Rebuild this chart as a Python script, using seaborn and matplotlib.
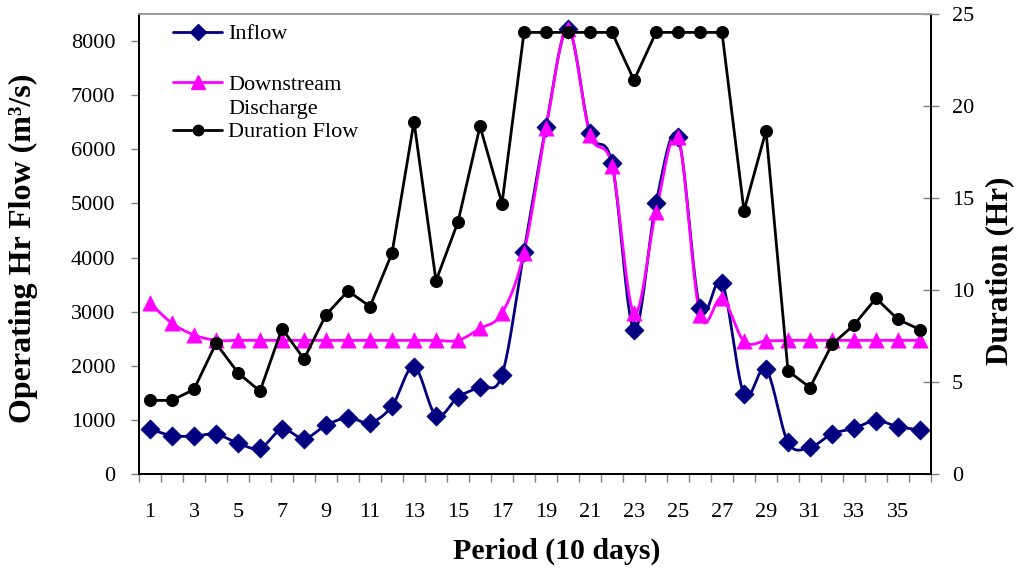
import numpy as np
import pandas as pd
import matplotlib
matplotlib.use("Agg")
import matplotlib.pyplot as plt
from matplotlib.lines import Line2D
import seaborn as sns

# ---- data -------------------------------------------------------------
period = list(range(1, 37))

inflow = [830, 710, 700, 735, 570, 475, 825, 655, 900, 1040, 950, 1255,
          1985, 1080, 1420, 1615, 1830, 4110, 6420, 8230, 6300, 5740,
          2665, 5005, 6235, 3065, 3535, 1480, 1935, 585, 495, 740,
          845, 985, 875, 815]

downstream = [3160, 2785, 2570, 2470, 2470, 2470, 2470, 2470, 2470, 2470,
              2470, 2470, 2470, 2470, 2470, 2690, 2970, 4090, 6390, 8230,
              6270, 5700, 2970, 4850, 6220, 2940, 3250, 2450, 2460, 2470,
              2470, 2470, 2470, 2470, 2470, 2470]

duration = [4.0, 4.0, 4.6, 7.1, 5.5, 4.5, 7.9, 6.25, 8.65, 9.95, 9.1, 12.0,
            19.15, 10.5, 13.7, 18.9, 14.7, 24.0, 24.0, 24.0, 24.0, 24.0,
            21.4, 24.0, 24.0, 24.0, 24.0, 14.3, 18.65, 5.6, 4.7, 7.05,
            8.1, 9.55, 8.4, 7.85]

x_tick_labels = [str(p) for p in range(1, 37, 2)]
left_ticks = list(range(0, 8001, 1000))
right_ticks = list(range(0, 26, 5))

series_names = ["Inflow", "Downstream\nDischarge", "Duration Flow"]


def smooth_path(x, y, n=20):
    """Cubic Bezier path through the points (spreadsheet-style smoothed line)."""
    x = np.asarray(x, float)
    y = np.asarray(y, float)
    px = np.concatenate([[x[0]], x, [x[-1]]])
    py = np.concatenate([[y[0]], y, [y[-1]]])
    xs, ys = [], []
    t = np.linspace(0, 1, n, endpoint=False)
    for i in range(1, len(px) - 2):
        p0x, p0y = px[i], py[i]
        p3x, p3y = px[i + 1], py[i + 1]
        c1x = p0x + (px[i + 1] - px[i - 1]) / 6
        c1y = p0y + (py[i + 1] - py[i - 1]) / 6
        c2x = p3x - (px[i + 2] - px[i]) / 6
        c2y = p3y - (py[i + 2] - py[i]) / 6
        b0 = (1 - t) ** 3
        b1 = 3 * (1 - t) ** 2 * t
        b2 = 3 * (1 - t) * t ** 2
        b3 = t ** 3
        xs.append(b0 * p0x + b1 * c1x + b2 * c2x + b3 * p3x)
        ys.append(b0 * p0y + b1 * c1y + b2 * c2y + b3 * p3y)
    xs.append([x[-1]])
    ys.append([y[-1]])
    return np.concatenate(xs), np.concatenate(ys)


# ---- style ------------------------------------------------------------
sns.set_theme(style="white")
plt.rcParams["font.family"] = ["Liberation Serif", "DejaVu Serif"]
plt.rcParams["axes.linewidth"] = 1.2
plt.rcParams["text.color"] = "black"
plt.rcParams["axes.labelcolor"] = "black"
plt.rcParams["xtick.labelcolor"] = "black"
plt.rcParams["ytick.labelcolor"] = "black"

NAVY = "#000080"
MAGENTA = "#FF00FF"
BLACK = "#000000"
TICK_GRAY = "#808080"

fig = plt.figure(figsize=(10.16, 5.69), dpi=100)
ax = fig.add_axes([139 / 1016, 1 - 474 / 569, 792 / 1016, 460 / 569])
ax2 = ax.twinx()

df = pd.DataFrame({"period": period, "inflow": inflow,
                   "downstream": downstream, "duration": duration})

# smoothed flow lines on the left axis
for col, color, mk, ms in [("inflow", NAVY, "D", 95),
                           ("downstream", MAGENTA, "^", 120)]:
    sx, sy = smooth_path(df["period"], df[col])
    sns.lineplot(x=sx, y=sy, ax=ax, color=color, linewidth=2.0,
                 sort=False, estimator=None, legend=False)
    sns.scatterplot(data=df, x="period", y=col, ax=ax, marker=mk, s=ms,
                    color=color, edgecolor=color, linewidth=0.5,
                    legend=False, zorder=3)

# straight duration line on the right axis
sns.lineplot(data=df, x="period", y="duration", ax=ax2, color=BLACK,
             linewidth=2.0, sort=False, estimator=None, legend=False)
sns.scatterplot(data=df, x="period", y="duration", ax=ax2, marker="o",
                s=75, color=BLACK, edgecolor=BLACK, legend=False, zorder=3)

# ---- axes -------------------------------------------------------------
ax.set_xlim(0.5, 36.5)
ax.set_ylim(0, 8500)
ax2.set_ylim(0, 25)

ax.set_xticks(list(range(1, 37, 2)))
ax.set_xticklabels(x_tick_labels)
ax.set_xticks(np.arange(0.5, 37, 1.0), minor=True)
ax.tick_params(axis="x", which="major", length=0, pad=21, labelsize=16,
               labelcolor=BLACK)
ax.tick_params(axis="x", which="minor", length=6, width=1, color=TICK_GRAY,
               direction="out", bottom=True)

ax.set_yticks(left_ticks)
ax.set_yticklabels([str(v) for v in left_ticks])
ax.tick_params(axis="y", which="major", length=6, width=1, color=TICK_GRAY,
               direction="out", pad=11, labelsize=16, left=True,
               labelcolor=BLACK)

ax2.set_yticks(right_ticks)
ax2.set_yticklabels([str(v) for v in right_ticks])
ax2.tick_params(axis="y", which="major", length=12, width=1, color=TICK_GRAY,
                direction="inout", pad=9, labelsize=16, right=True,
                labelcolor=BLACK)

for a in (ax, ax2):
    for side in ("left", "bottom", "right"):
        a.spines[side].set_color(BLACK)
        a.spines[side].set_linewidth(1.3)
    a.spines["top"].set_color("#a0a0a0")
    a.spines["top"].set_linewidth(1.3)

ax.set_xlabel("Period (10 days)", fontsize=21.5, fontweight="bold",
              color=BLACK)
ax.xaxis.set_label_coords(0.527, -0.138)
ax.set_ylabel("Operating Hr Flow (m³/s)", fontsize=23, fontweight="bold",
              color=BLACK)
ax.yaxis.set_label_coords(-0.128, 0.49)
ax2.set_ylabel("Duration (Hr)", fontsize=22.5, fontweight="bold", color=BLACK)
ax2.yaxis.set_label_coords(1.069, 0.441)

# ---- legend -----------------------------------------------------------
leg_x0, leg_x1, leg_tx = 0.043, 0.105, 0.1124
px_y = 1 / 460  # one pixel in axes-fraction units
leg_handles = [(0.961, NAVY, "D", 8),
               (0.852, MAGENTA, "^", 10),
               (0.748, BLACK, "o", 7.5)]
for yy, color, mk, ms in leg_handles:
    ax.add_line(Line2D([leg_x0, leg_x1], [yy, yy], transform=ax.transAxes,
                       color=color, linewidth=2.0, zorder=5))
    ax.add_line(Line2D([(leg_x0 + leg_x1) / 2], [yy], transform=ax.transAxes,
                       marker=mk, markersize=ms, color=color, zorder=6))

# legend texts; the two-line label starts level with its handle
leg_text_rows = [(0.961, series_names[0].split("\n")[0]),
                 (0.852, series_names[1].split("\n")[0]),
                 (0.852 - 24 * px_y, series_names[1].split("\n")[1]),
                 (0.748, series_names[2])]
for yy, label in leg_text_rows:
    ax.text(leg_tx, yy - 3 * px_y, label, transform=ax.transAxes,
            fontsize=16, va="center", ha="left", color=BLACK)

fig.savefig("out.png", dpi=100)
